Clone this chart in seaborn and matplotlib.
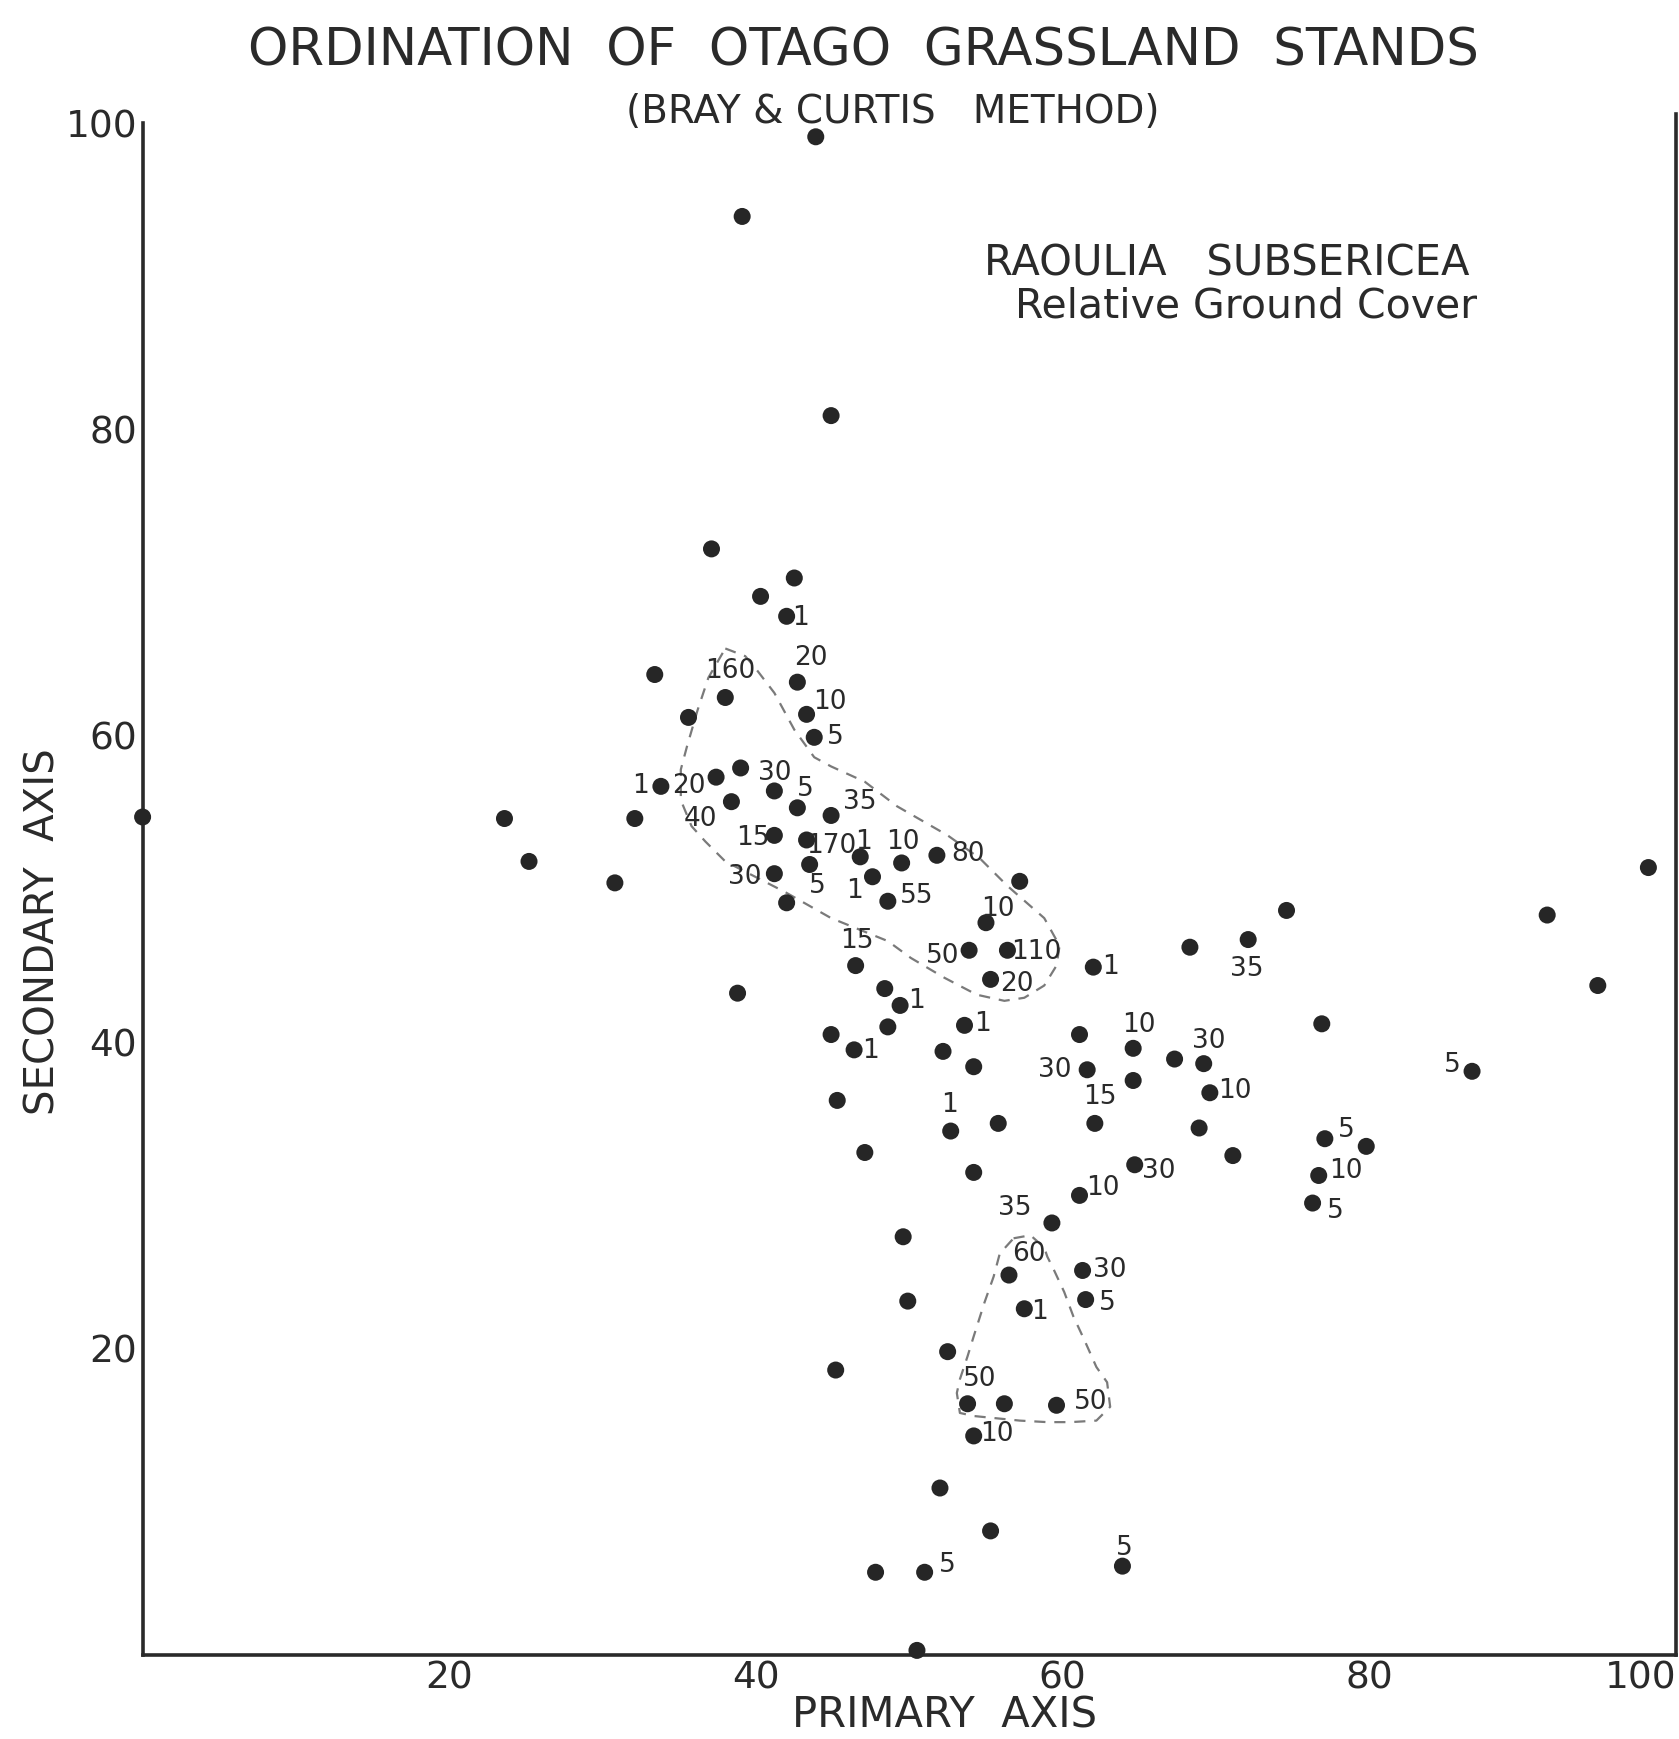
import matplotlib
matplotlib.use("Agg")
import matplotlib.pyplot as plt
import seaborn as sns
import pandas as pd

# ---------------- data ----------------
stand_x = [43.9, 39.1, 44.9, 37.1, 42.5, 40.3, 42.0,
           33.4, 42.7, 38.0, 35.6, 43.3, 43.8,
           39.0, 37.4, 33.8, 41.2, 38.4, 42.7, 44.9,
           32.1, 0.0, 23.6, 25.2, 30.8,
           41.2, 43.3, 46.8, 49.5, 51.8, 43.5, 41.2,
           47.6, 42.0, 48.6, 57.2, 55.0, 53.9, 56.4, 55.3, 62.0,
           38.8, 46.5, 48.4, 49.4, 48.6, 53.6, 44.9, 46.4, 52.2, 54.2,
           61.1, 61.6, 64.6, 64.6, 67.3, 69.2, 69.6, 68.9, 71.1,
           68.3, 72.1, 74.6, 76.9, 86.7, 91.6, 94.9, 98.2,
           45.3, 52.7, 55.8, 62.1, 47.1, 54.2, 64.7, 61.1, 59.3,
           49.6, 56.5, 61.3, 61.5, 49.9, 57.5, 52.5, 45.2,
           53.8, 56.2, 59.6, 54.2, 52.0, 55.3, 47.8, 51.0, 63.9, 50.5,
           77.1, 79.8, 76.7, 76.3]
stand_y = [99.1, 93.9, 80.9, 72.2, 70.3, 69.1, 67.8,
           64.0, 63.5, 62.5, 61.2, 61.4, 59.9,
           57.9, 57.3, 56.7, 56.4, 55.7, 55.3, 54.8,
           54.6, 54.7, 54.6, 51.8, 50.4,
           53.5, 53.2, 52.1, 51.7, 52.2, 51.6, 51.0,
           50.8, 49.1, 49.2, 50.5, 47.8, 46.0, 46.0, 44.1, 44.9,
           43.2, 45.0, 43.5, 42.4, 41.0, 41.1, 40.5, 39.5, 39.4, 38.4,
           40.5, 38.2, 39.6, 37.5, 38.9, 38.6, 36.7, 34.4, 32.6,
           46.2, 46.7, 48.6, 41.2, 38.1, 48.3, 43.7, 51.4,
           36.2, 34.2, 34.7, 34.7, 32.8, 31.5, 32.0, 30.0, 28.2,
           27.3, 24.8, 25.1, 23.2, 23.1, 22.6, 19.8, 18.6,
           16.4, 16.4, 16.3, 14.3, 10.9, 8.1, 5.4, 5.4, 5.8, 0.3,
           33.7, 33.2, 31.3, 29.5]

# cover values written next to the stands (text, x, y)
cover_text = ["1", "20", "160", "10", "5", "1", "20", "30", "5", "35",
              "40", "15", "170", "1", "10", "80", "30", "5", "1", "55",
              "10", "15", "50", "110", "20", "1", "1", "1", "1", "10",
              "30", "30", "10", "35", "1", "15", "30", "10", "35", "60",
              "30", "5", "1", "50", "50", "10", "5", "5", "5", "10",
              "5", "5"]
cover_x = [42.9, 43.6, 38.3, 44.8, 45.2, 32.5, 35.6, 41.2, 43.2, 46.8,
           36.4, 39.8, 44.9, 47.0, 49.6, 53.8, 39.3, 44.0, 46.4, 50.5,
           55.8, 46.6, 52.2, 58.3, 57.0, 63.1, 50.5, 54.8, 47.5, 65.0,
           59.5, 69.5, 71.2, 72.0, 52.6, 62.4, 66.3, 62.6, 56.9, 57.8,
           63.1, 62.9, 58.5, 54.6, 61.8, 55.7, 52.5, 64.0, 78.5, 78.5,
           77.8, 85.4]
cover_y = [67.7, 65.1, 64.2, 62.2, 59.9, 56.7, 56.7, 57.6, 56.5, 55.7,
           54.6, 53.3, 52.8, 53.1, 53.1, 52.3, 50.8, 50.2, 49.9, 49.55,
           48.7, 46.6, 45.6, 45.9, 43.8, 44.9, 42.7, 41.2, 39.4, 41.1,
           38.2, 40.1, 36.8, 44.8, 35.9, 36.4, 31.6, 30.5, 29.2, 26.2,
           25.1, 23.0, 22.4, 18.0, 16.5, 14.4, 5.9, 7.0, 34.3, 31.6,
           29.0, 38.5]

# hand drawn envelopes (dashed)
env1_x = [38.0, 39.3, 39.9, 41.2, 42.5, 43.8, 44.9, 47.1, 49.2, 52.5, 54.6,
          56.4, 58.8, 59.8, 59.6, 58.8, 57.5, 56.2, 54.4, 52.3, 50.1, 48.6,
          44.9, 41.9, 38.0, 36.7, 35.8, 35.1, 35.1, 35.5, 36.2, 36.9, 38.0]
env1_y = [65.7, 65.2, 64.5, 62.8, 60.4, 58.6, 58.0, 57.0, 55.4, 53.5, 52.0,
          50.2, 48.1, 46.3, 45.0, 43.7, 42.9, 42.7, 43.1, 44.2, 45.5, 46.6,
          48.1, 49.8, 51.8, 53.1, 54.1, 55.8, 57.8, 59.3, 61.7, 63.8, 65.7]
env2_x = [56.8, 57.9, 58.8, 59.0, 59.4, 60.1, 60.7, 61.4, 62.2, 62.9, 63.1,
          62.2, 60.5, 59.0, 57.2, 54.2, 53.3, 53.1, 53.3, 53.8, 54.2, 54.9,
          55.5, 55.9, 56.8]
env2_y = [27.2, 27.4, 26.6, 26.0, 25.2, 23.7, 22.1, 20.6, 18.8, 17.8, 16.2,
          15.3, 15.2, 15.2, 15.3, 15.6, 15.8, 17.1, 18.0, 19.5, 20.8, 23.0,
          24.7, 26.2, 27.2]

x_ticks = [20, 40, 60, 80, 100]
y_ticks = [20, 40, 60, 80, 100]

# ---------------- figure ----------------
sns.set_theme(style="white")
narrow = ["Liberation Sans Narrow", "DejaVu Sans"]
plt.rcParams["font.family"] = narrow

W, H = 1679, 1739
y0_px, y100_px = 1655, 123
fig = plt.figure(figsize=(W / 100, H / 100), dpi=100)
fig.patch.set_facecolor("white")
ax = fig.add_axes([142.6 / W, (H - y0_px) / H, (1676 - 142.6) / W,
                   (y0_px - y100_px) / H])
ax.set_facecolor("white")

ink = "#262626"
df = pd.DataFrame({"x": stand_x, "y": stand_y})
sns.scatterplot(data=df, x="x", y="y", ax=ax, s=150, color=ink,
                edgecolor="none", linewidth=0, clip_on=False, zorder=3)

for ex, ey in [(env1_x, env1_y), (env2_x, env2_y)]:
    ax.plot(ex, ey, color="#7a7a7a", lw=1.6, ls=(0, (5, 4)), zorder=2)

for t, x, y in zip(cover_text, cover_x, cover_y):
    ax.text(x, y, t, ha="center", va="center", fontsize=19, color="#2a2a2a",
            family=narrow, zorder=4)

ax.set_xlim(0, 100)
ax.set_ylim(0, 100)
ax.set_xticks(x_ticks)
ax.set_yticks(y_ticks)
ax.set_xticklabels([str(v) for v in x_ticks], fontsize=27, color="#2a2a2a")
ax.set_yticklabels([str(v) for v in y_ticks], fontsize=27, color="#2a2a2a")
ax.tick_params(axis="x", direction="in", length=22, width=1.8, pad=4, colors="#2a2a2a")
ax.tick_params(axis="y", direction="in", length=8, width=1.8, pad=4, colors="#2a2a2a")
for lab in ax.get_xticklabels() + ax.get_yticklabels():
    lab.set_color("#2a2a2a")
ax.get_xticklabels()[-1].set_horizontalalignment("right")
ax.set_xlabel("")
ax.set_ylabel("")

for side in ["left", "bottom", "right"]:
    ax.spines[side].set_visible(True)
    ax.spines[side].set_color("#2a2a2a")
    ax.spines[side].set_linewidth(2.6)
ax.spines["top"].set_visible(False)
ax.spines["right"].set_bounds(0, 100.6)

# titles and labels
fig.text(863 / W, 1 - 52 / H, "ORDINATION  OF  OTAGO  GRASSLAND  STANDS",
         ha="center", va="center", fontsize=37, color="#2a2a2a",
         family=["DejaVu Sans"])
fig.text(893 / W, 1 - 112 / H, "(BRAY & CURTIS   METHOD)",
         ha="center", va="center", fontsize=28, color="#2a2a2a", family=narrow)
fig.text(1469 / W, 1 - 264 / H, "RAOULIA   SUBSERICEA",
         ha="right", va="center", fontsize=30, color="#2a2a2a",
         family=["DejaVu Sans"])
fig.text(1477 / W, 1 - 306 / H, "Relative Ground Cover",
         ha="right", va="center", fontsize=29.5, color="#2a2a2a",
         family=["DejaVu Sans"])
fig.text(945 / W, 1 - 1716 / H, "PRIMARY  AXIS",
         ha="center", va="center", fontsize=30, color="#2a2a2a",
         family=["DejaVu Sans"])
fig.text(44 / W, 1 - 932 / H, "SECONDARY  AXIS", rotation=90,
         ha="center", va="center", fontsize=29, color="#2a2a2a",
         family=["DejaVu Sans"])

fig.savefig("out.png", dpi=100, facecolor="white")
